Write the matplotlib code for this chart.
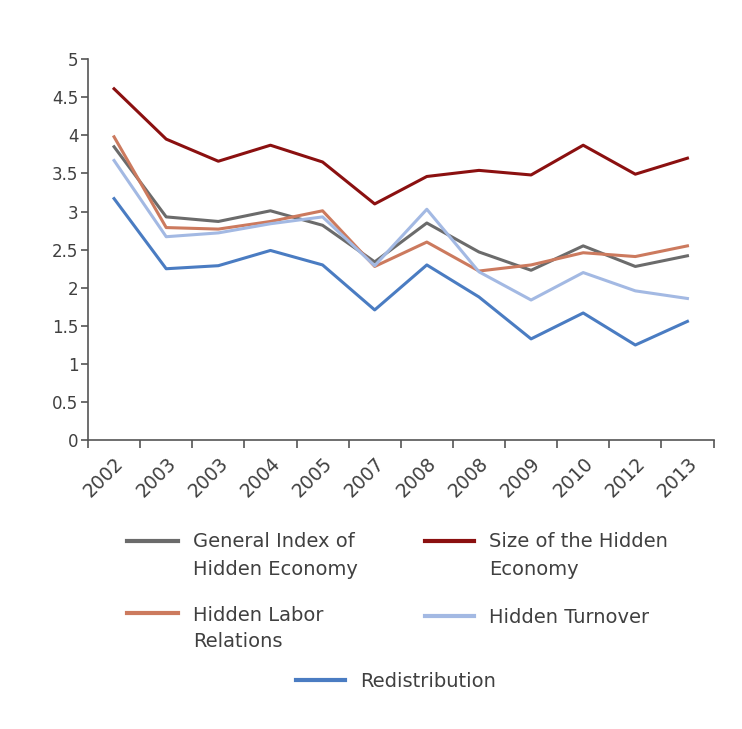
import matplotlib
matplotlib.use("Agg")
import matplotlib.pyplot as plt
from matplotlib.lines import Line2D

years = ["2002", "2003", "2003", "2004", "2005", "2007", "2008", "2008", "2009", "2010", "2012", "2013"]
general_index = [3.85, 2.93, 2.87, 3.01, 2.82, 2.34, 2.85, 2.47, 2.23, 2.55, 2.28, 2.42]
size_hidden = [4.61, 3.95, 3.66, 3.87, 3.65, 3.10, 3.46, 3.54, 3.48, 3.87, 3.49, 3.70]
labor_rel = [3.98, 2.79, 2.77, 2.87, 3.01, 2.28, 2.60, 2.22, 2.30, 2.46, 2.41, 2.55]
turnover = [3.67, 2.67, 2.72, 2.84, 2.93, 2.29, 3.03, 2.21, 1.84, 2.20, 1.96, 1.86]
redistribution = [3.17, 2.25, 2.29, 2.49, 2.30, 1.71, 2.30, 1.88, 1.33, 1.67, 1.25, 1.56]

c_gray = "#6b6b6b"
c_red = "#8b1010"
c_orange = "#cc7a5e"
c_light = "#a3b9e3"
c_blue = "#4a7cc2"
txt = "#404040"

plt.rcParams['font.family'] = ['DejaVu Sans']

fig = plt.figure(figsize=(7.42, 7.29), dpi=100)
ax = fig.add_axes([0.1186, 0.396, 0.843, 0.523])

x = list(range(len(years)))
lw = 2.2
ax.plot(x, general_index, color=c_gray, lw=lw)
ax.plot(x, size_hidden, color=c_red, lw=lw)
ax.plot(x, labor_rel, color=c_orange, lw=lw)
ax.plot(x, turnover, color=c_light, lw=lw)
ax.plot(x, redistribution, color=c_blue, lw=lw)

ax.set_xlim(-0.5, len(years) - 0.5)
ax.set_ylim(0, 5)
ax.set_yticks([0, 0.5, 1, 1.5, 2, 2.5, 3, 3.5, 4, 4.5, 5])
ax.set_yticklabels(["0", "0.5", "1", "1.5", "2", "2.5", "3", "3.5", "4", "4.5", "5"])
ax.set_xticks(x)
ax.set_xticklabels(years, rotation=45, ha="right", rotation_mode="anchor")
ax.set_xticks([i - 0.5 for i in range(len(years) + 1)], minor=True)
ax.tick_params(axis="x", which="major", length=0, pad=10, labelsize=13.5, colors=txt)
ax.tick_params(axis="x", which="minor", length=6, width=1.2, color="#555555", direction="out")
ax.tick_params(axis="y", length=5, width=1.2, color="#555555", labelsize=12, labelcolor=txt, pad=2)
for s in ["top", "right"]:
    ax.spines[s].set_visible(False)
for s in ["left", "bottom"]:
    ax.spines[s].set_color("#555555")
    ax.spines[s].set_linewidth(1.2)

H = 729.0
W = 742.0

def leg(x0, x1, yl, color, tx, lines, baselines):
    fig.add_artist(Line2D([x0 / W, x1 / W], [1 - yl / H, 1 - yl / H], color=color, lw=3,
                          transform=fig.transFigure))
    for s, b in zip(lines, baselines):
        fig.text(tx / W, 1 - b / H, s, fontsize=14, color=txt, va="baseline", ha="left")

leg(127, 178, 541, c_gray, 193, ["General Index of", "Hidden Economy"], [547, 575])
leg(425, 474, 541, c_red, 489, ["Size of the Hidden", "Economy"], [547, 575])
leg(127, 178, 613, c_orange, 193, ["Hidden Labor", "Relations"], [621, 647])
leg(425, 474, 616, c_light, 489, ["Hidden Turnover"], [623])
leg(296, 345, 680, c_blue, 360, ["Redistribution"], [687])

fig.savefig("out.png", dpi=100, facecolor="white")
